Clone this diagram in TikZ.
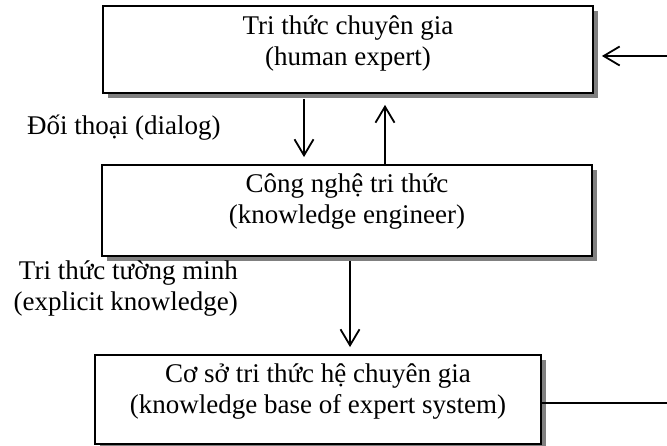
\documentclass[tikz,border=0pt]{standalone}
\usepackage{fontspec}
\setmainfont{Liberation Serif}
\usepackage{tikz}
\usetikzlibrary{arrows.meta,shadows,calc}
\newcommand{\bigfont}{\fontsize{27pt}{31pt}\selectfont}

\begin{document}
\begin{tikzpicture}[x=1pt, y=1pt,
  box/.style={draw, line width=1.8pt, fill=white, inner sep=0pt, align=center, font=\bigfont,
    drop shadow={shadow xshift=5pt, shadow yshift=-5pt, fill=black!50, opacity=1}},
  lbl/.style={inner sep=0pt, font=\bigfont},
  arr/.style={-{Straight Barb[length=16pt, width=19pt]}, line width=1.8pt}]
\useasboundingbox (0,0) rectangle (667,446);

\node[box, minimum width=490pt, text height=60pt, text depth=27pt] (hu) at (348,396.5)
  {Tri thức chuyên gia\\(human expert)};
\node[box, minimum width=490pt, text height=59pt, text depth=32pt] (ke) at (347,235.5)
  {Công nghệ tri thức\\(knowledge engineer)};
\node[box, minimum width=446pt, text height=59pt, text depth=30pt] (kb) at (318,46.5)
  {Cơ sở tri thức hệ chuyên gia\\(knowledge base of expert system)};

\node[lbl, anchor=base west] (dlg) at (27,311) {Đối thoại (dialog)};
\node[lbl, align=right, anchor=north east] (exk) at (238,185) {Tri thức tường minh\\(explicit knowledge)};

\coordinate (fb) at (667,390);
\coordinate (out) at (667,43);

\draw[arr] ([xshift=-44pt, yshift=-5pt]hu.south) -- ([xshift=-43pt, yshift=7pt]ke.north);
\draw[arr] ([xshift=38pt]ke.north) -- ([xshift=37pt, yshift=-11pt]hu.south);
\draw[arr] ([xshift=3pt, yshift=-4pt]ke.south) -- ([xshift=32pt, yshift=7pt]kb.north);
\draw[arr] (fb) -- ($(fb -| hu.east)+(8pt,0)$);
\draw[line width=1.8pt] (kb.east |- out) -- (out);
\end{tikzpicture}
\end{document}
